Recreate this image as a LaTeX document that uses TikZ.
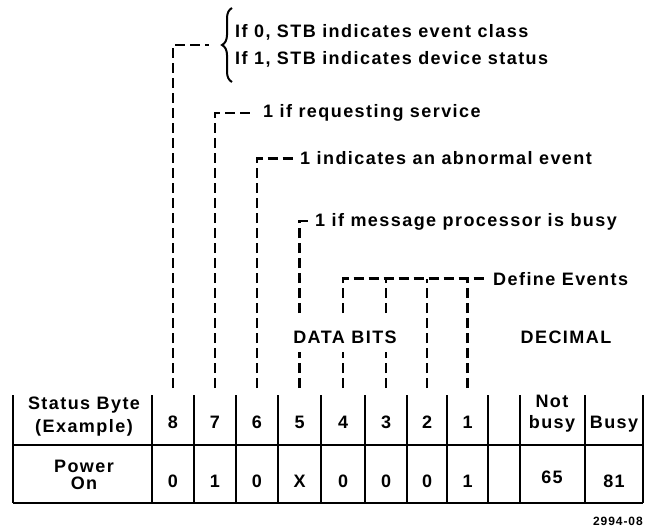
\documentclass[tikz,border=0pt]{standalone}
\usepackage{fontspec}
\setmainfont{Liberation Sans}[LetterSpace=8]
\usetikzlibrary{decorations.pathreplacing}
\tikzset{
  leader/.style={line width=2.2pt,dash pattern=on 10pt off 5pt},
  rule/.style={line width=2.2pt},
  sep/.style={line width=1.2pt},
  txt/.style={anchor=base,inner sep=0pt},
  lbl/.style={anchor=base west,inner sep=0pt},
}
\begin{document}
\begin{tikzpicture}[x=1pt,y=-1pt,font=\fontsize{18}{22}\selectfont\bfseries]
\useasboundingbox (0,0) rectangle (652,529);
% table
\foreach \x in {13,152,194,236,278,321,365,407,447,488,520,585,643}
  \draw[sep] (\x,395) -- (\x,503);
\draw[rule] (13,445) -- (643,445);
\draw[rule] (13,503) -- (643,503);
\node[txt] (sb) at (84,409) {Status Byte};
\node[txt] (ex) at (84,432) {(Example)};
\node[txt] (pw) at (84,472) {Power};
\node[txt] (on) at (84,489) {On};
\foreach \b/\x/\v in {8/173/0,7/215/1,6/257/0,5/299.5/X,4/343/0,3/386/0,2/427/0,1/467.5/1}{
  \node[txt] (h\b) at (\x,428) {\b};
  \node[txt] (v\b) at (\x,487) {\v};
  \coordinate (t\b) at (\x,388);
}
\node[txt] (nb) at (552,407) {Not};
\node[txt] (nbb) at (552,428) {busy};
\node[txt] (bz) at (614,428) {Busy};
\node[txt] (d65) at (552,483) {65};
\node[txt] (d81) at (614,487) {81};
% labels
\node[lbl] (cls) at (235,38) {If 0, STB indicates event class};
\node[lbl] (dev) at (235,65) {If 1, STB indicates device status};
\node[lbl] (req) at (263,118) {1 if requesting service};
\node[lbl] (abn) at (300,165) {1 indicates an abnormal event};
\node[lbl] (bsy) at (315,226) {1 if message processor is busy};
\node[lbl] (evt) at (493,285) {Define Events};
\node[txt] (dec) at (566,343) {DECIMAL};
\node[anchor=base east,inner sep=0pt,font=\fontsize{12}{14}\selectfont\bfseries] (fig) at (643,525) {2994-08};
% leaders
\draw[line width=2pt,decorate,decoration={brace,amplitude=10pt}] (232,82) -- (232,8);
\coordinate (brc) at (209,45);
\draw[leader] (t8) |- (brc);
\draw[leader] (t7) |- ([xshift=-9pt]req.west);
\draw[leader] (t6) |- ([xshift=-3pt]abn.west);
\draw[leader] (t5) |- ([xshift=-7pt]bsy.west);
\draw[leader] (t4) |- ([xshift=-6pt]evt.west);
\foreach \b in {3,2,1}
  \draw[leader] (t\b) -- (t\b |- evt.west);
\node[txt,fill=white,text height=27pt,text depth=9pt] (db) at (345,343) {DATA BITS};
\end{tikzpicture}
\end{document}
